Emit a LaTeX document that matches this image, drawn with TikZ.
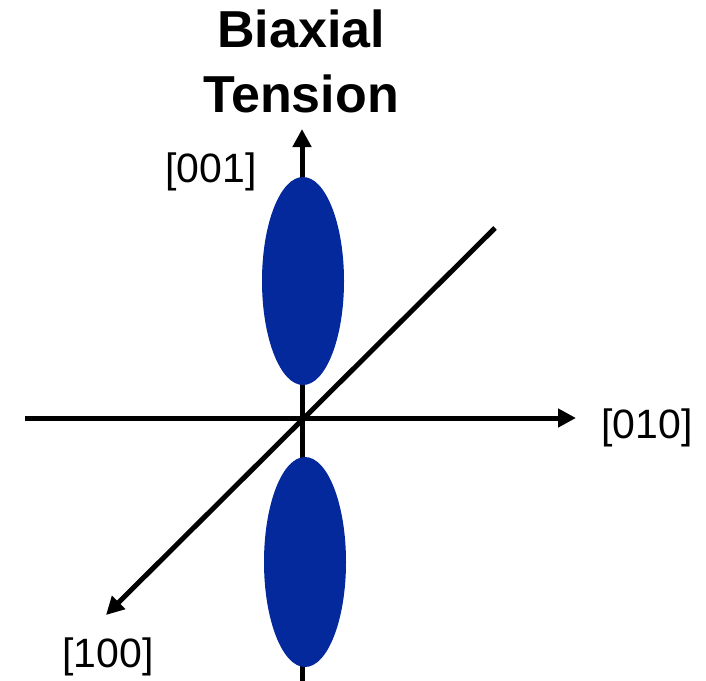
\documentclass[tikz,border=0pt]{standalone}
\usepackage{fontspec}
\setmainfont{Liberation Sans}
\usetikzlibrary{arrows.meta}
\definecolor{lobe}{RGB}{3,41,156}
\tikzset{
  axis/.style={line width=5pt, -{Triangle[length=18pt,width=18pt]}},
  plain/.style={line width=5pt},
  lobefill/.style={fill=lobe, draw=none},
  lbl/.style={font=\fontsize{41}{41}\selectfont, anchor=base, inner sep=0pt},
  ttl/.style={font=\fontsize{52}{52}\selectfont\bfseries, anchor=base, inner sep=0pt}
}
\begin{document}
\begin{tikzpicture}[x=1pt,y=-1pt]
\useasboundingbox (0,0) rectangle (706,680);
% coordinates
\coordinate (vbot) at (302,682);
\coordinate (vtop) at (302,129);
\coordinate (hleft) at (25,418);
\coordinate (hright) at (576,418);
\coordinate (dtop) at (495,228);
\coordinate (dbot) at (106,615);
% vertical axis
\draw[axis] (vbot) -- (vtop);
% lobes
\fill[lobefill] (303,281) ellipse [x radius=41, y radius=104];
\fill[lobefill] (305,562) ellipse [x radius=41, y radius=105];
% other axes
\draw[axis] (hleft) -- (hright);
\draw[axis] (dtop) -- (dbot);
% labels
\node[ttl] (t1) at (301,47) {Biaxial};
\node[ttl] (t2) at (301,112) {Tension};
\node[lbl] (l001) at (211,182) {[001]};
\node[lbl] (l010) at (647,438) {[010]};
\node[lbl] (l100) at (108,667) {[100]};
\end{tikzpicture}
\end{document}
